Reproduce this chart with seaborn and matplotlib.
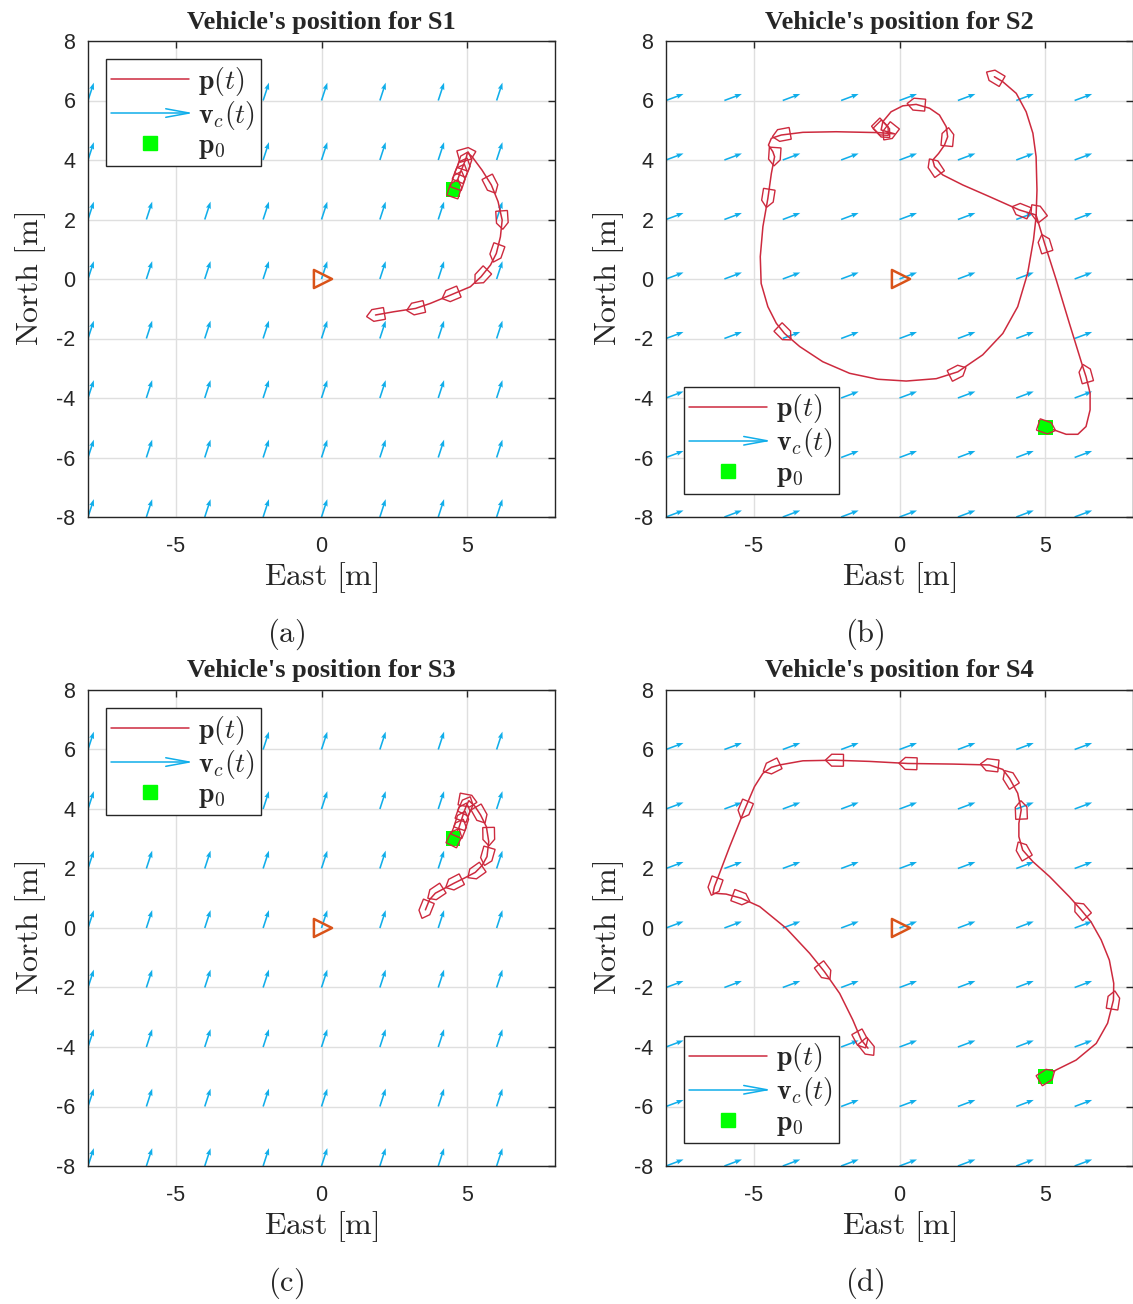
import numpy as np
import pandas as pd
import matplotlib
matplotlib.use("Agg")
import matplotlib.pyplot as plt
import seaborn as sns
from matplotlib.lines import Line2D
from matplotlib.legend_handler import HandlerBase
from matplotlib.patches import Polygon
from matplotlib.transforms import Affine2D

# ---------------- data ----------------
titles = ["Vehicle's position for S1", "Vehicle's position for S2",
          "Vehicle's position for S3", "Vehicle's position for S4"]
captions = ["(a)", "(b)", "(c)", "(d)"]

p0_x = [4.5, 5.0, 4.5, 5.0]
p0_y = [3.0, -5.0, 3.0, -5.0]

# current vector (per scenario)
cur_u = [0.2, 0.6, 0.2, 0.6]
cur_v = [0.6, 0.22, 0.6, 0.22]
grid_vals = [-8, -6, -4, -2, 0, 2, 4, 6]

s1_x = [4.55, 4.65, 4.75, 4.85, 4.95, 5.0, 5.16, 5.50, 5.82, 6.05, 6.19, 6.13, 5.99,
        5.79, 5.47, 5.10, 4.42, 3.73, 3.22, 2.48, 1.85]
s1_y = [3.00, 3.30, 3.57, 3.80, 4.05, 4.25, 4.11, 3.66, 3.16, 2.60, 1.98, 1.42, 0.86,
        0.47, 0.08, -0.26, -0.54, -0.82, -0.99, -1.10, -1.21]
s1_bx = [4.58, 4.70, 4.78, 4.87, 4.93, 4.99, 5.82, 6.19, 5.99, 5.47, 4.42, 3.22, 1.85]
s1_by = [3.05, 3.33, 3.57, 3.78, 3.98, 4.20, 3.16, 1.98, 0.86, 0.08, -0.54, -0.99, -1.21]

s2_x = [5.05, 5.37, 5.71, 6.11, 6.39, 6.53, 6.53, 6.39, 6.28, 5.82, 5.37, 4.97, 4.68,
        4.11, 3.08, 2.17, 1.48, 1.20, 1.14, 1.34, 1.54, 1.65, 1.60, 1.37, 1.03, 0.57,
        0.11, -0.29, -0.57, -0.63, -0.17, -0.70,
        -2.17, -3.31, -4.05, -4.39, -4.49, -4.34, -4.28, -4.39, -4.51, -4.68, -4.77,
        -4.74, -4.51, -4.22, -3.94, -3.42, -2.63, -1.71, -0.74, 0.23, 1.26, 2.00, 2.85,
        3.54, 4.05, 4.39, 4.59, 4.68, 4.71, 4.68, 4.57, 4.34, 4.00, 3.54, 3.25]
s2_y = [-4.99, -5.10, -5.22, -5.22, -4.96, -4.40, -3.84, -3.28, -2.95, -1.49, -0.03,
        1.20, 2.15,
        2.32, 2.77, 3.16, 3.50, 3.78, 4.00, 4.22, 4.50, 4.78, 5.12, 5.51, 5.74, 5.87,
        5.82, 5.62, 5.29, 5.01, 4.88, 4.92,
        4.95, 4.93, 4.84, 4.73, 4.50, 4.28, 4.11, 3.55, 2.71, 1.76, 0.75,
        -0.15, -0.93, -1.49, -1.83, -2.27, -2.78, -3.17, -3.37, -3.43, -3.35, -3.12,
        -2.55, -1.83, -0.93, 0.19, 1.31, 2.09, 2.99, 4.11, 4.90, 5.62, 6.24, 6.63, 6.80]
s2_bx = [5.05, 6.37, 4.97, 4.72, 4.15, 1.20, 1.65, 0.57, -0.55, -0.35, -0.60, -4.05,
         -4.28, -4.51, -3.94, 2.00, 3.25]
s2_by = [-4.99, -3.17, 1.20, 2.25, 2.32, 3.78, 4.78, 5.87, 4.98, 4.92, 5.05, 4.84,
         4.11, 2.71, -1.83, -3.12, 6.80]

s3_x = [4.55, 4.70, 4.80, 4.90, 4.98, 5.05, 5.25, 5.45, 5.65, 5.73, 5.67, 5.50, 5.27,
        4.90, 4.53, 3.90, 3.70, 3.56]
s3_y = [3.04, 3.35, 3.65, 3.95, 4.15, 4.28, 4.10, 3.80, 3.40, 2.90, 2.40, 2.10, 1.87,
        1.68, 1.50, 1.17, 0.95, 0.61]
s3_bx = [4.58, 4.74, 4.82, 4.87, 4.97, 5.02, 5.45, 5.73, 5.67, 5.27, 4.53, 3.90, 3.56]
s3_by = [3.06, 3.37, 3.63, 3.91, 4.13, 4.28, 3.80, 3.07, 2.40, 1.87, 1.50, 1.17, 0.61]

s4_x = [5.05, 5.37, 6.05, 6.74, 7.13, 7.33, 7.34, 7.19, 6.91, 6.56, 6.22, 5.82, 5.14,
        4.57, 4.22, 4.09, 4.09, 4.17, 4.05, 3.77, 3.54, 3.08, 1.83, 0.29, -1.03, -2.23,
        -3.31, -4.11, -4.39, -4.68, -4.97, -5.31, -5.82, -6.34, -6.39, -5.94, -5.42,
        -4.79, -3.88, -3.08, -2.57, -2.05, -1.60, -1.31, -1.08]
s4_y = [-4.97, -4.77, -4.44, -3.88, -3.20, -2.42, -1.86, -1.08, -0.40, 0.21, 0.61,
        1.05, 1.73, 2.23, 2.62, 3.07, 3.52, 3.97, 4.53, 5.03, 5.33, 5.48, 5.51, 5.53,
        5.60, 5.64, 5.62, 5.48, 5.40, 5.20, 4.75, 3.97, 2.73, 1.39, 1.17, 1.14, 1.00,
        0.72, -0.01, -0.85, -1.47, -2.20, -3.09, -3.76, -4.04]
s4_bx = [5.05, 7.33, 6.22, 4.22, 4.17, 3.77, 3.08, 0.29, -2.23, -4.39, -5.31, -6.34,
         -5.42, -2.57, -1.31, -1.08]
s4_by = [-4.97, -2.42, 0.61, 2.62, 3.97, 5.03, 5.48, 5.53, 5.64, 5.40, 3.97, 1.39,
         1.00, -1.47, -3.76, -4.04]

path_x = [s1_x, s2_x, s3_x, s4_x]
path_y = [s1_y, s2_y, s3_y, s4_y]
boat_x = [s1_bx, s2_bx, s3_bx, s4_bx]
boat_y = [s1_by, s2_by, s3_by, s4_by]
legend_loc = ["upper left", "lower left", "upper left", "lower left"]

# ---------------- style ----------------
RED = "#CD2A3E"
BLUE = "#10AEEA"
GREEN = "#00FF00"
ORANGE = "#D95319"
AXC = "#262626"

sns.set_theme(style="white")
plt.rcParams.update({
    "font.family": ["Liberation Sans", "DejaVu Sans"],
    "mathtext.fontset": "cm",
    "axes.unicode_minus": False,
    "axes.edgecolor": AXC,
    "axes.linewidth": 1.0,
    "xtick.color": AXC,
    "ytick.color": AXC,
})


class HandlerArrow(HandlerBase):
    def create_artists(self, legend, orig_handle, xdescent, ydescent, width, height,
                       fontsize, trans):
        y = height / 2 - ydescent
        x0, x1 = -xdescent, width - xdescent
        line = Line2D([x0, x1], [y, y], color=BLUE, lw=1.1, transform=trans)
        hl = 0.3 * width
        hw = 0.22 * height
        head = Line2D([x1 - hl, x1, x1 - hl], [y + hw, y, y - hw], color=BLUE, lw=1.1,
                      transform=trans)
        return [line, head]


boat_shape = np.array([[-0.5, -0.5], [0.15, -0.5], [0.5, 0.0], [0.15, 0.5], [-0.5, 0.5]])
BOAT_L, BOAT_W = 0.62, 0.40

fig = plt.figure(figsize=(11.33, 13.04), dpi=100)
W, H = 1133.0, 1304.0
ax_left = [88, 666, 88, 666]
ax_top = [41, 41, 690, 690]
ax_w, ax_h = 467.0, 476.0
cap_x = [286, 865, 286, 865]
cap_y = [634, 634, 1283, 1283]

GX, GY = np.meshgrid(grid_vals, grid_vals)

for k in range(4):
    ax = fig.add_axes([ax_left[k] / W, 1 - (ax_top[k] + ax_h) / H, ax_w / W, ax_h / H])
    ax.set_xlim(-8, 8)
    ax.set_ylim(-8, 8)
    ax.set_xticks([-5, 0, 5])
    ax.set_yticks(np.arange(-8, 9, 2))
    ax.grid(True, color="#DFDFDF", lw=1.0)
    ax.set_axisbelow(True)
    ax.tick_params(direction="in", length=5, width=1, top=True, right=True,
                   labelsize=15.5)
    ax.tick_params(axis="x", pad=14)
    ax.tick_params(axis="y", pad=9)

    # current field
    ax.quiver(GX, GY, np.full(GX.shape, cur_u[k]), np.full(GX.shape, cur_v[k]),
              angles="xy", scale_units="xy", scale=1, color=BLUE,
              width=0.0034, headwidth=3.2, headlength=4.5, headaxislength=4.0, zorder=2)

    # trajectory
    df = pd.DataFrame({"East": path_x[k], "North": path_y[k]})
    sns.lineplot(data=df, x="East", y="North", sort=False, estimator=None, ax=ax,
                 color=RED, lw=1.1, zorder=3)

    # p0
    sns.scatterplot(x=[p0_x[k]], y=[p0_y[k]], marker="s", s=110, color=GREEN,
                    edgecolor="none", ax=ax, zorder=4)
    # origin / target
    sns.scatterplot(x=[0.05], y=[0.0], marker=">", s=170, facecolor="none",
                    edgecolor=ORANGE, linewidth=1.8, ax=ax, zorder=4)

    # boats oriented along the path
    px = np.asarray(path_x[k]); py = np.asarray(path_y[k])
    n = len(px)
    for bx, by in zip(boat_x[k], boat_y[k]):
        i = int(np.argmin((px - bx) ** 2 + (py - by) ** 2))
        dx = px[min(i + 1, n - 1)] - px[max(i - 1, 0)]
        dy = py[min(i + 1, n - 1)] - py[max(i - 1, 0)]
        ang = np.arctan2(dy, dx)
        tr = Affine2D().scale(BOAT_L, BOAT_W).rotate(ang).translate(bx, by) + ax.transData
        ax.add_patch(Polygon(boat_shape, closed=True, fill=False, edgecolor=RED,
                             lw=1.0, transform=tr, zorder=5))

    ax.set_title(titles[k], fontfamily="Liberation Serif", fontweight="bold",
                 fontsize=19, pad=9)
    ax.set_xlabel(r"$\mathrm{East\ [m]}$", fontsize=23, labelpad=2)
    ax.set_ylabel(r"$\mathrm{North\ [m]}$", fontsize=23, labelpad=6)

    handles = [Line2D([], [], color=RED, lw=1.1),
               Line2D([], [], color=BLUE),
               Line2D([], [], color=GREEN, marker="s", ms=10, ls="none")]
    labels = [r"$\mathbf{p}(t)$", r"$\mathbf{v}_c(t)$", r"$\mathbf{p}_0$"]
    if legend_loc[k] == "upper left":
        anchor = (0.038, 0.962)
    else:
        anchor = (0.038, 0.048)
    leg = ax.legend(handles, labels, loc=legend_loc[k], bbox_to_anchor=anchor,
                    handler_map={handles[1]: HandlerArrow()}, fontsize=20,
                    handlelength=2.8, handletextpad=0.32, labelspacing=0.04,
                    borderpad=0.2, borderaxespad=0.0, fancybox=False, framealpha=1,
                    edgecolor=AXC)
    leg.get_frame().set_linewidth(1.0)
    leg.set_zorder(10)

    fig.text(cap_x[k] / W, 1 - cap_y[k] / H, r"$\mathrm{" + captions[k] + "}$",
             ha="center", va="center", fontsize=22)

fig.savefig("out.png", dpi=100)
